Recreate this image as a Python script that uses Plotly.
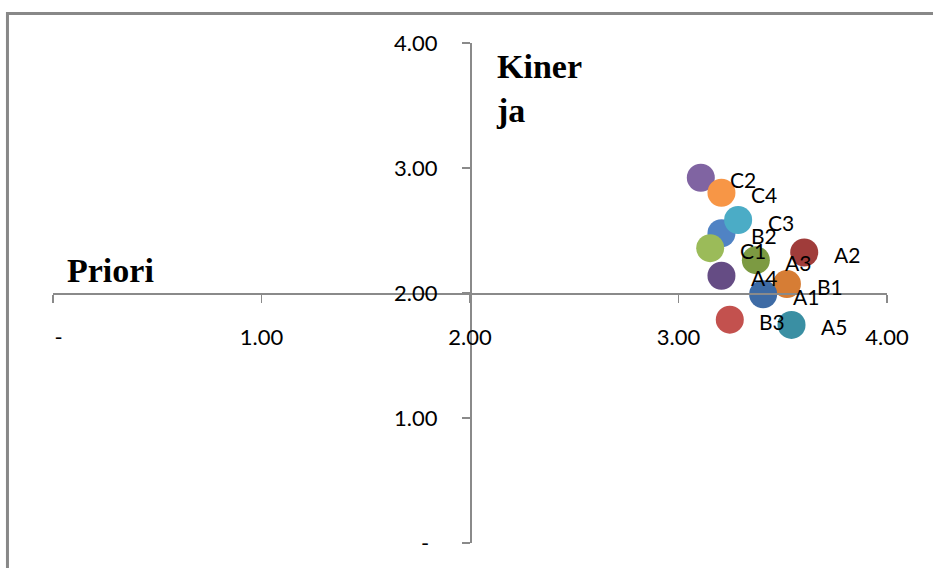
import plotly.graph_objects as go

# Data (drawing order matters for overlaps)
labels = ["B1", "B2", "B3", "C1", "C2", "C3", "C4", "A1", "A2", "A3", "A4", "A5"]
prioritas = [3.52, 3.206, 3.246, 3.152, 3.107, 3.286, 3.206, 3.406, 3.603, 3.371, 3.206, 3.542]
kinerja = [2.072, 2.478, 1.787, 2.359, 2.922, 2.584, 2.802, 1.990, 2.324, 2.263, 2.138, 1.745]
colors = ["#D67D35", "#5083C4", "#C3514E", "#9BBB59", "#8064A2", "#4BACC6",
          "#F79646", "#3E6BA5", "#A03C3A", "#7C9A42", "#654C84", "#3A8FA3"]

tick_vals = [0, 1, 2, 3, 4]
x_tick_text = ["\u00a0\u00a0-", "1.00", "2.00", "3.00", "4.00"]
y_tick_text = ["-\u00a0\u2009", "1.00", "2.00", "3.00", "4.00"]

AXIS_COLOR = "#8a8a8a"
TICK_FONT = dict(family="Lato, Liberation Sans, sans-serif", size=22, color="#000000")
LABEL_FONT = dict(family="Lato, Liberation Sans, sans-serif", size=21, color="#000000")
TITLE_FONT = dict(family="Liberation Serif, Times New Roman, serif", size=34, color="#000000")

fig = go.Figure()
fig.add_trace(go.Scatter(
    x=prioritas, y=kinerja, mode="markers",
    marker=dict(size=28, color=colors, line=dict(width=0), opacity=1),
    showlegend=False, hoverinfo="skip", cliponaxis=False,
))

annotations = []
for lab, xv, yv in zip(labels, prioritas, kinerja):
    annotations.append(dict(
        x=xv, y=yv, xref="x", yref="y", text=lab, showarrow=False,
        xanchor="center", yanchor="middle", xshift=42.6, yshift=-2,
        font=LABEL_FONT,
    ))

annotations.append(dict(
    x=0.529, y=0.994, xref="paper", yref="paper", text="<b>Kiner</b><br><b>ja</b>",
    showarrow=False, xanchor="left", yanchor="top", align="left",
    font=TITLE_FONT,
))
annotations.append(dict(
    x=0.014, y=0.546, xref="paper", yref="paper", text="<b>Priori</b>",
    showarrow=False, xanchor="left", yanchor="middle",
    font=TITLE_FONT,
))

fig.update_layout(
    width=933, height=568,
    margin=dict(l=53, r=46, t=43, b=23),
    paper_bgcolor="white", plot_bgcolor="white",
    annotations=annotations,
    xaxis=dict(
        range=[0, 4], anchor="free", position=0.5,
        tickvals=tick_vals, ticktext=x_tick_text,
        showgrid=False, zeroline=False, showline=True,
        linecolor=AXIS_COLOR, linewidth=1.75,
        ticks="outside", ticklen=8, tickwidth=1.75, tickcolor=AXIS_COLOR,
        tickfont=TICK_FONT, ticklabelstandoff=16,
    ),
    yaxis=dict(
        range=[0, 4], anchor="free", position=0.5,
        tickvals=tick_vals, ticktext=y_tick_text,
        showgrid=False, zeroline=False, showline=True,
        linecolor=AXIS_COLOR, linewidth=1.75,
        ticks="outside", ticklen=8, tickwidth=1.75, tickcolor=AXIS_COLOR,
        tickfont=TICK_FONT, ticklabelstandoff=20,
    ),
    shapes=[dict(
        type="rect", xref="paper", yref="paper",
        x0=-0.0546, x1=1.2, y0=-0.2, y1=1.0588,
        line=dict(color="#888888", width=3), fillcolor="rgba(0,0,0,0)",
        layer="below",
    )],
)

fig.write_html(
    "out.html",
    config={"displayModeBar": False, "staticPlot": True},
    post_script="document.body.style.margin='0';",
)
